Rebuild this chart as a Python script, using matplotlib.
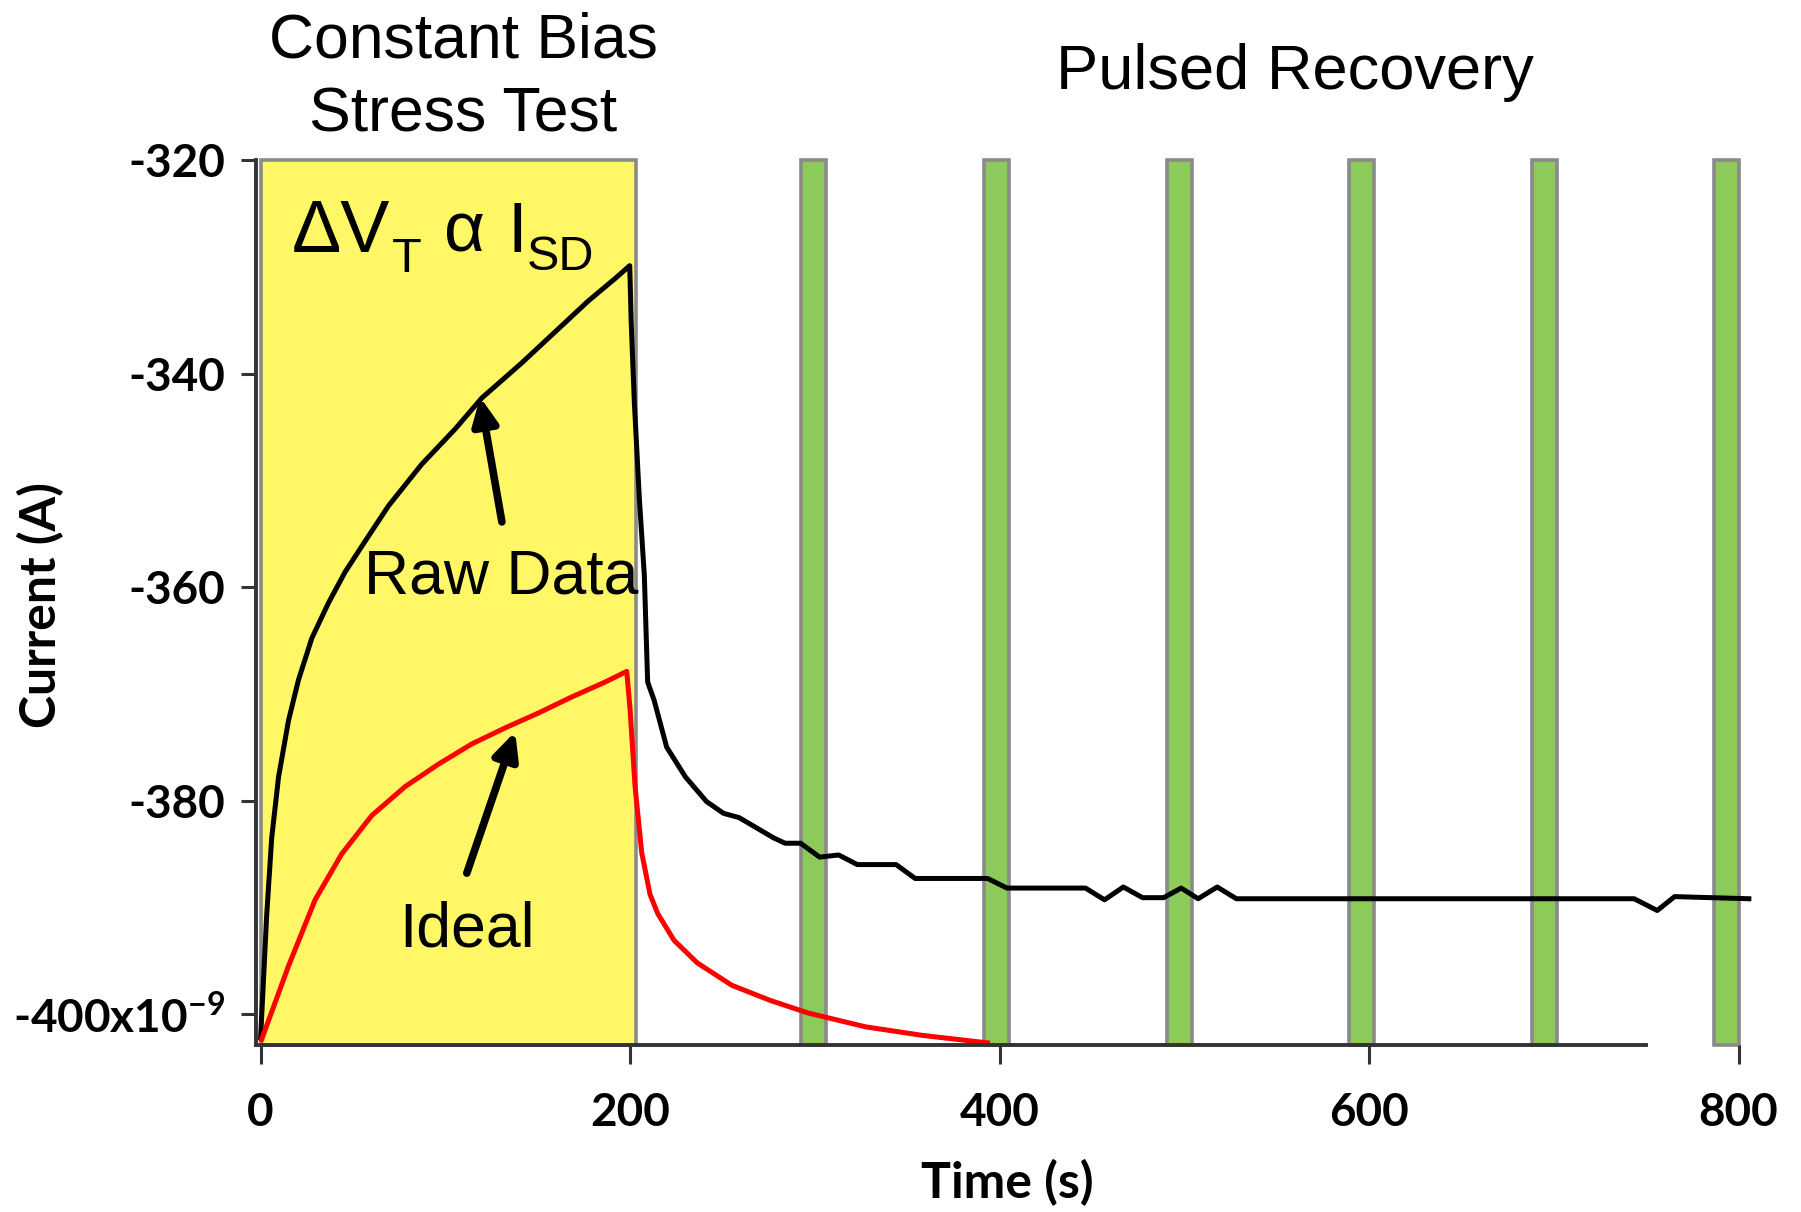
import matplotlib.pyplot as plt

# --- Daten, Zeit in s, Strom in nA ---
raw_t = [0, 3.3, 6.0, 9.7, 15.1, 20.5, 27.7, 36.7, 45.7, 56.6, 69.2, 87.2, 105.3,
         119.7, 141.4, 159.4, 177.4, 191.9, 199.8, 200.6, 202.3, 205, 207.7, 209.5,
         213, 219.8, 230, 241.4, 250.6, 259, 277.7, 283.9, 292.3, 302.6, 312.9, 323,
         344, 354.3, 393.5, 404, 446.5, 456.8, 467, 477.4, 488.8, 498.3, 507.5, 517.8,
         528.2, 743.5, 756, 765.4, 805.6]
raw_i = [-402.2, -390.7, -383.5, -377.8, -372.5, -368.7, -364.8, -361.5, -358.6,
         -355.7, -352.4, -348.5, -345.2, -342.3, -339.0, -336.1, -333.2, -331.1,
         -329.9, -335.2, -342.7, -351.7, -358.9, -368.9, -370.6, -375.0, -377.8,
         -380.1, -381.2, -381.6, -383.5, -384.0, -384.0, -385.3, -385.1, -386.0,
         -386.0, -387.3, -387.3, -388.2, -388.2, -389.3, -388.1, -389.1, -389.1,
         -388.2, -389.2, -388.1, -389.2, -389.2, -390.3, -389.0, -389.2]

ideal_t = [0.5, 15.1, 29.5, 43.9, 60.2, 78.2, 96.2, 114.3, 132.3, 150.4, 168.4, 186.5,
           198.2, 200, 202.7, 206.3, 210.8, 215, 223.8, 236.3, 255, 275.5, 296.3,
           327.5, 358.3, 393.5]
ideal_i = [-402.4, -395.5, -389.3, -385.0, -381.4, -378.7, -376.6, -374.7, -373.2,
           -371.8, -370.3, -368.9, -367.9, -371.5, -378.7, -384.9, -388.8, -390.6,
           -393.1, -395.2, -397.3, -398.7, -399.9, -401.2, -402.0, -402.7]

# Stress-Phase und Recovery-Pulse
stress_start = 0
stress_end = 203
pulse_starts = [292.5, 391.5, 490.5, 589, 688, 786.5]
pulse_width = 13.5

x_ticks = [0, 200, 400, 600, 800]
x_tick_labels = ["0", "200", "400", "600", "800"]
y_ticks = [-400, -380, -360, -340, -320]
y_tick_labels = [r"-400x10$^{\mathregular{-9}}$", "-380", "-360", "-340", "-320"]

X_MIN, X_MAX = -2.5, 810
Y_MIN, Y_MAX = -402.9, -320

YELLOW = "#FFF766"
GREEN = "#8CCB5A"
EDGE = "#8a8a8a"
AXIS = "#333333"

W, H = 1801, 1212  # Pixelgroesse der Abbildung

plt.rcParams['mathtext.fontset'] = 'custom'
plt.rcParams['mathtext.rm'] = 'Liberation Sans'
plt.rcParams['mathtext.it'] = 'Liberation Sans:italic'
plt.rcParams['mathtext.bf'] = 'Liberation Sans:bold'

fig = plt.figure(figsize=(W / 100, H / 100), dpi=100)
ax = fig.add_axes([256 / W, 1 - 1045 / H, 1501 / W, 885 / H])

# Hintergrund-Bereiche
ax.bar(stress_start, Y_MAX - Y_MIN, width=stress_end - stress_start, bottom=Y_MIN,
       align='edge', color=YELLOW, edgecolor=EDGE, linewidth=2.6, zorder=1, clip_on=False)
ax.bar(pulse_starts, Y_MAX - Y_MIN, width=pulse_width, bottom=Y_MIN,
       align='edge', color=GREEN, edgecolor=EDGE, linewidth=2.6, zorder=1, clip_on=False)

# Kurven
ax.plot(raw_t, raw_i, color='black', linewidth=3.6, zorder=3, solid_joinstyle='round')
ax.plot(ideal_t, ideal_i, color='#ff0000', linewidth=3.6, zorder=3, solid_joinstyle='round')

ax.set_xlim(X_MIN, X_MAX)
ax.set_ylim(Y_MIN, Y_MAX)

for side in ['top', 'right']:
    ax.spines[side].set_visible(False)
for side in ['left', 'bottom']:
    ax.spines[side].set_color(AXIS)
    ax.spines[side].set_linewidth(2.8)
    ax.spines[side].set_zorder(4)
ax.spines['bottom'].set_bounds(X_MIN, 750)

ax.set_xticks(x_ticks)
ax.set_xticklabels(x_tick_labels)
ax.set_yticks(y_ticks)
ax.set_yticklabels(y_tick_labels)
ax.tick_params(axis='x', direction='out', length=14, width=2.2, color=AXIS, pad=20)
ax.tick_params(axis='y', direction='out', length=11, width=2.2, color=AXIS, pad=11)
for lab in ax.get_xticklabels() + ax.get_yticklabels():
    lab.set_fontfamily('Lato')
    lab.set_fontweight('bold')
    lab.set_fontsize(33)

# Achsenbeschriftungen
fig.text(1007 / W, 1 - 1183 / H, "Time (s)", ha='center', va='center',
         fontsize=36, fontweight='bold', family='Lato')
fig.text(41 / W, 1 - 605 / H, "Current (A)", ha='center', va='center',
         rotation=90, fontsize=36, fontweight='bold', family='Lato')

# Ueberschriften
fig.text(463 / W, 1 - 57.4 / H, "Constant Bias", ha='center', va='baseline',
         fontsize=45, family='Liberation Sans')
fig.text(463 / W, 1 - 132 / H, "Stress Test", ha='center', va='baseline',
         fontsize=45, family='Liberation Sans')
fig.text(1294.5 / W, 1 - 89 / H, "Pulsed Recovery", ha='center', va='baseline',
         fontsize=45.5, family='Liberation Sans')

# Formel "dV_T alpha I_SD": Teile einzeln gesetzt, damit die Indizes tiefer liegen
formula = [("ΔV", 292, 251.7, 53), ("T", 392, 271.5, 35), ("α", 444, 251.7, 51),
           ("I", 507, 251.7, 51), ("SD", 527, 270, 35)]
for txt, px, py, size in formula:
    fig.text(px / W, 1 - py / H, txt, ha='left', va='baseline', fontsize=size,
             family='Liberation Sans', zorder=5)

ax.text(130, -360.6, "Raw Data", ha='center', va='baseline', fontsize=45,
        family='Liberation Sans', zorder=5)
ax.text(111.6, -393.7, "Ideal", ha='center', va='baseline', fontsize=45,
        family='Liberation Sans', zorder=5)

arrow = dict(arrowstyle='-|>,head_length=0.8,head_width=0.38', color='black',
             lw=5.5, mutation_scale=20, shrinkA=0, shrinkB=0)
ax.annotate("", xy=(118.8, -342.2), xytext=(130.6, -353.9), arrowprops=arrow, zorder=5)
ax.annotate("", xy=(137.8, -373.55), xytext=(111.6, -386.8), arrowprops=arrow, zorder=5)

fig.savefig("out.png", dpi=100)
